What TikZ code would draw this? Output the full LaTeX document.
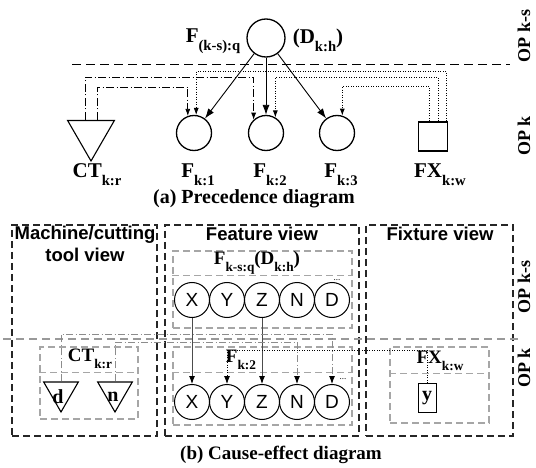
\documentclass[tikz,border=0pt]{standalone}
\usepackage{fontspec}
\setmainfont{Liberation Serif}
\setsansfont{Liberation Sans}
\usepackage{graphicx}
\usetikzlibrary{arrows.meta,shapes.geometric}
\newcommand{\sublab}[2]{#1\raisebox{-0.38em}{\scalebox{0.7}{#2}}}

\begin{document}
\begin{tikzpicture}[x=1pt,y=-1pt,
  lbl/.style={font=\fontsize{21}{21}\selectfont\bfseries,inner sep=0pt},
  boxlbl/.style={font=\fontsize{19}{19}\selectfont\bfseries,inner sep=0pt},
  captxt/.style={font=\fontsize{20}{20}\selectfont\bfseries,inner sep=0pt},
  oplbl/.style={font=\fontsize{18}{18}\selectfont\bfseries,inner sep=0pt,rotate=90},
  title/.style={font=\fontsize{18.5}{22}\selectfont\sffamily\bfseries,align=center,inner sep=0pt},
  opnode/.style={circle,draw,line width=1.3pt,minimum size=35pt,inner sep=0pt},
  feat/.style={circle,draw,line width=1pt,minimum size=35pt,inner sep=0pt,font=\fontsize{19}{19}\selectfont\sffamily},
  tool/.style={regular polygon,regular polygon sides=3,shape border rotate=180,draw,line width=1.1pt,inner sep=0pt},
  view/.style={draw=black!85,line width=1.3pt,dash pattern=on 7pt off 4pt,inner sep=0pt},
  inbox/.style={draw=black!35,line width=1.2pt,dash pattern=on 7pt off 4pt,inner sep=0pt},
  main/.style={-{Latex[length=10pt,width=7pt]},line width=0.9pt},
  ctline/.style={-{Latex[length=7pt,width=5pt]},line width=0.8pt,dash pattern=on 8pt off 2.5pt on 1pt off 2.5pt},
  fxline/.style={-{Latex[length=7pt,width=5pt]},line width=0.8pt,dash pattern=on 1pt off 1.5pt},
  bsolid/.style={-{Latex[length=8pt,width=6pt,color=black]},line width=0.9pt,black!70},
  ctgray/.style={-{Latex[length=8pt,width=6pt,color=black]},line width=0.9pt,black!45,dash pattern=on 7pt off 2.5pt on 1pt off 2.5pt},
  fxdot/.style={-{Latex[length=8pt,width=6pt]},line width=0.8pt,dash pattern=on 1pt off 1.5pt}]
\useasboundingbox (0,0) rectangle (536,468);

\node[opnode,minimum size=38pt] (Fq) at (266,38) {};
\node[lbl] (Fqlbl) at (213,41) {\sublab{F}{(k-s):q}};
\node[lbl] (Dkh) at (318,40) {(\sublab{D}{k:h})};
\coordinate (sepL) at (72,65);
\coordinate (sepR) at (510,65);
\draw[line width=1pt,dash pattern=on 9pt off 5pt] (sepL) -- (sepR);
\node[tool,minimum size=54pt] (CT) at (91,134) {};
\node[opnode] (F1) at (194,133) {};
\node[opnode] (F2) at (266,133) {};
\node[opnode] (F3) at (337,133) {};
\node[draw,line width=1.3pt,minimum size=29pt,inner sep=0pt] (FX) at (433,136.5) {};
\node[lbl] (CTlbl) at (97,175) {\sublab{CT}{k:r}};
\node[lbl] (F1lbl) at (198,175) {\sublab{F}{k:1}};
\node[lbl] (F2lbl) at (270,175) {\sublab{F}{k:2}};
\node[lbl] (F3lbl) at (341,175) {\sublab{F}{k:3}};
\node[lbl] (FXlbl) at (440,175) {\sublab{FX}{k:w}};
\draw[main] (Fq) -- (F1);
\draw[main] (Fq) -- (F2);
\draw[main] (Fq) -- (F3);
\draw[ctline] ([xshift=-6pt]CT.north) -- ++(0,-43) -| (F2.133);
\draw[ctline] ([xshift=6pt]CT.north) -- ++(0,-33) -| (F1.110);
\draw[fxline] ([xshift=13pt]FX.north) -- ++(0,-50) -| (F1.83);
\draw[fxline] ([xshift=5pt]FX.north) -- ++(0,-44) -| (F2.59);
\draw[fxline] ([xshift=-4pt]FX.north) -- ++(0,-35) -| (F3.73);
\node[captxt] (capa) at (254,199) {(a) Precedence diagram};
\node[oplbl] (opks1) at (524,36) {OP k-s};
\node[oplbl] (opk1) at (524,136) {OP k};

\node[view,minimum width=145pt,minimum height=211pt] (machine) at (84.5,330.5) {};
\node[view,minimum width=194pt,minimum height=211pt] (feature) at (262,330.5) {};
\node[view,minimum width=147pt,minimum height=211pt] (fixture) at (439.5,330.5) {};
\node[title] (machT) at (85,244) {Machine/cutting\\tool view};
\node[title] (featT) at (262,234) {Feature view};
\node[title] (fixT) at (440,234) {Fixture view};
\coordinate (opL) at (3,339);
\coordinate (opR) at (520,339);
\draw[black!40,line width=1.2pt,dash pattern=on 8pt off 5pt] (opL) -- (opR);
\node[inbox,minimum width=98pt,minimum height=72pt] (ctbox) at (89,383) {};
\draw[inbox] ([yshift=-26pt]ctbox.north west) -- ([yshift=-26pt]ctbox.north east);
\node[inbox,minimum width=179pt,minimum height=77pt] (fqbox) at (262.5,289.5) {};
\draw[inbox] ([yshift=-25pt]fqbox.north west) -- ([yshift=-25pt]fqbox.north east);
\node[inbox,minimum width=179pt,minimum height=78pt] (f2box) at (262.5,386) {};
\draw[inbox] ([yshift=-26pt]f2box.north west) -- ([yshift=-26pt]f2box.north east);
\node[inbox,minimum width=99pt,minimum height=76pt] (fxbox) at (439.5,385) {};
\draw[inbox] ([yshift=-27pt]fxbox.north west) -- ([yshift=-27pt]fxbox.north east);
\node[boxlbl] (ctlbl) at (90,359) {\sublab{CT}{k:r}};
\node[boxlbl] (fqlbl) at (257,263) {\sublab{F}{k-s:q}(\sublab{D}{k:h})};
\node[boxlbl] (f2lbl) at (241,360) {\sublab{F}{k:2}};
\node[boxlbl] (fxlbl) at (440,361) {\sublab{FX}{k:w}};
\node[feat] (tX) at (192,300) {X};
\node[feat] (tY) at (227,300) {Y};
\node[feat] (tZ) at (262,300) {Z};
\node[feat] (tN) at (297,300) {N};
\node[feat] (tD) at (332,300) {D};
\node[feat] (bX) at (192,402) {X};
\node[feat] (bY) at (227,402) {Y};
\node[feat] (bZ) at (262,402) {Z};
\node[feat] (bN) at (297,402) {N};
\node[feat] (bD) at (332,402) {D};
\node[font=\fontsize{9}{9}\selectfont,inner sep=0pt] (tdots) at (337,280) {...};
\node[font=\fontsize{9}{9}\selectfont,inner sep=0pt] (bdots) at (343,379) {...};
\node[tool,minimum size=40pt] (td) at (61,392) {};
\node[tool,minimum size=40pt] (tn) at (115,392) {};
\node[lbl,font=\fontsize{20}{20}\selectfont\bfseries] (dl) at (58,397) {d};
\node[lbl,font=\fontsize{20}{20}\selectfont\bfseries] (nl) at (113,397) {n};
\node[draw,line width=1pt,minimum width=18pt,minimum height=29pt,inner sep=0pt,font=\fontsize{20}{20}\selectfont\bfseries] (ybox) at (427,398) {y};
\draw[bsolid] (tX) -- (bX);
\draw[bsolid] (tZ) -- (bZ);
\draw[fxdot] (ybox.north) -- ++(0,-33) -| (bY);
\draw[ctgray] (td.north) -- ++(0,-47) -| (bD);
\draw[ctgray] (tn.north) -- ++(0,-39) -| (bN);
\node[captxt,font=\fontsize{19}{19}\selectfont\bfseries] (capb) at (281,455) {(b) Cause-effect diagram};
\node[oplbl] (opks2) at (524,287) {OP k-s};
\node[oplbl] (opk2) at (524,368) {OP k};
\end{tikzpicture}
\end{document}
